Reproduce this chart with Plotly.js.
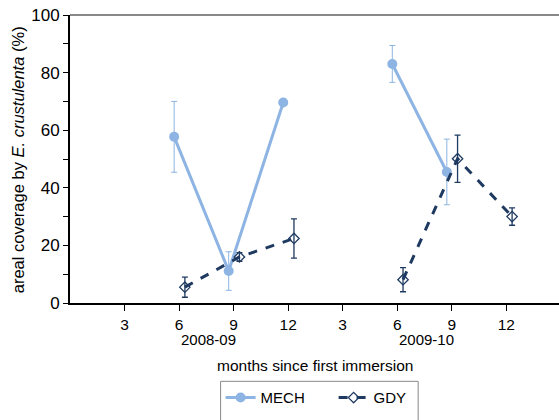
<!DOCTYPE html>
<html>
<head>
<meta charset="utf-8">
<script src="https://cdn.plot.ly/plotly-3.0.1.min.js"></script>
<style>html,body{margin:0;padding:0;background:#fff;}#chart{width:559px;height:420px;}</style>
</head>
<body>
<div id="chart"></div>
<script>
// Data
const mechX = [5.73, 8.73, 11.73, null, 17.73, 20.73];
const mechY = [57.7, 11.1, 69.6, null, 83.0, 45.5];
const mechErr = [12.3, 6.7, 0, null, 6.4, 11.4];

const gdyX = [6.32, 9.32, 12.32, null, 18.32, 21.32, 24.32];
const gdyY = [5.5, 16.0, 22.4, null, 8.1, 50.1, 30.0];
const gdyErr = [3.5, 1.5, 6.8, null, 4.2, 8.2, 3.0];

const tickVals = [3, 6, 9, 12, 15, 18, 21, 24];
const tickText = ['3', '6', '9', '12', '3', '6', '9', '12'];
const seasonLabels = ['2008-09', '2009-10'];
const seasonPos = [7.6, 19.6];

const mechColor = '#8db4e2';
const gdyColor = '#1f3a60';
const FONT = 'Liberation Sans, Arial, sans-serif';

const traces = [
  {
    x: mechX, y: mechY, name: 'MECH', type: 'scatter', mode: 'lines+markers',
    line: {color: mechColor, width: 3},
    marker: {symbol: 'circle', size: 10, color: mechColor},
    error_y: {type: 'data', array: mechErr, visible: true, color: mechColor, thickness: 1, width: 3},
    connectgaps: false
  },
  {
    x: gdyX, y: gdyY, name: 'GDY', type: 'scatter', mode: 'lines+markers',
    line: {color: gdyColor, width: 3, dash: 'dash'},
    marker: {symbol: 'diamond-open', size: 8, color: gdyColor, line: {width: 1.3, color: gdyColor}},
    error_y: {type: 'data', array: gdyErr, visible: true, color: gdyColor, thickness: 1.3, width: 3},
    connectgaps: false
  }
];

const annotations = seasonLabels.map((t, i) => ({
  x: seasonPos[i], y: -0.128, xref: 'x', yref: 'paper', text: t, showarrow: false,
  font: {family: FONT, size: 15, color: '#000'}, yanchor: 'middle'
}));
annotations.push({
  x: 0.5, y: -0.218, xref: 'paper', yref: 'paper', text: 'months since first immersion', showarrow: false,
  font: {family: FONT, size: 15.5, color: '#000'}, yanchor: 'middle', xanchor: 'center'
});
annotations.push({
  x: -0.107, y: 0.498, xref: 'paper', yref: 'paper', text: 'areal coverage by <i>E. crustulenta</i> (%)',
  showarrow: false, textangle: -90,
  font: {family: FONT, size: 16.5, color: '#000'}, xanchor: 'center', yanchor: 'middle'
});

const layout = {
  width: 559, height: 420,
  margin: {l: 70, r: 0, t: 15, b: 117},
  paper_bgcolor: '#fff', plot_bgcolor: '#fff',
  font: {family: FONT, color: '#000'},
  showlegend: true,
  legend: {
    orientation: 'h', x: 0.308, y: -0.272, xanchor: 'left', yanchor: 'top',
    bgcolor: 'rgba(0,0,0,0)', borderwidth: 0, font: {size: 15},
    entrywidth: 68, entrywidthmode: 'pixels'
  },
  xaxis: {
    range: [0, 26.9], showgrid: false, zeroline: false,
    showline: true, linecolor: '#000', linewidth: 2,
    ticks: 'outside', ticklen: 6, tickcolor: '#000', tickwidth: 1,
    tickvals: tickVals, ticktext: tickText,
    tickfont: {size: 15.5}
  },
  yaxis: {
    range: [0, 100], showgrid: false, zeroline: false,
    showline: true, linecolor: '#000', linewidth: 2,
    ticks: 'outside', ticklen: 5, tickcolor: '#000', tickwidth: 1,
    dtick: 20, tickfont: {size: 17},
    minor: {dtick: 10, ticks: 'outside', ticklen: 5, tickcolor: '#000', tickwidth: 1}
  },
  shapes: [
    {
      type: 'line', xref: 'paper', yref: 'paper', x0: 0, x1: 1, y0: 1, y1: 1,
      line: {color: '#888', width: 2}
    },
    {
      type: 'rect', xref: 'paper', yref: 'paper', x0: 0.308, x1: 0.712, y0: -0.272, y1: -0.45,
      line: {color: '#888', width: 1}, fillcolor: 'rgba(0,0,0,0)'
    }
  ],
  annotations: annotations
};

Plotly.newPlot('chart', traces, layout, {displayModeBar: false, staticPlot: true});
</script>
</body>
</html>
